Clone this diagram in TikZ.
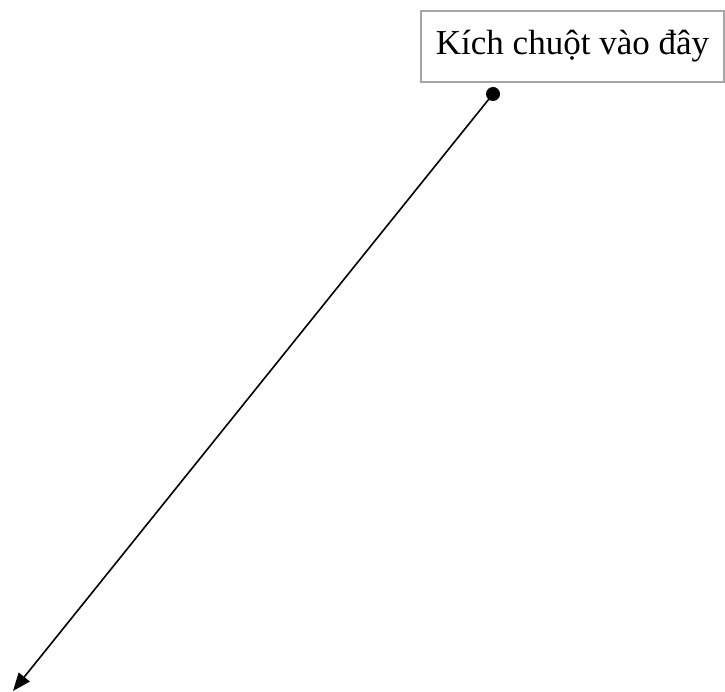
\documentclass[tikz,border=0pt]{standalone}
\usepackage{fontspec}
\setmainfont{Liberation Serif}
\usepackage{tikz}
\usetikzlibrary{arrows.meta,positioning}

\begin{document}
\begin{tikzpicture}[x=1pt, y=-1pt]
            \useasboundingbox (0,0) rectangle (725,692);
            \node[draw=gray!70, line width=1.5pt, minimum width=303pt, minimum height=71pt, inner sep=0pt, font=\fontsize{35}{40}\selectfont] (clickbox) at (572.5,46.5) {Kích chuột vào đây};
            \node[circle, fill=black, inner sep=0pt, minimum size=14pt] (dot) at (493,94) {};
            \coordinate (target) at (13,691);
            
            \draw[-{Triangle[length=18pt,width=14pt]}, line width=1.6pt] (dot.center) -- (target);
        \end{tikzpicture}
\end{document}
